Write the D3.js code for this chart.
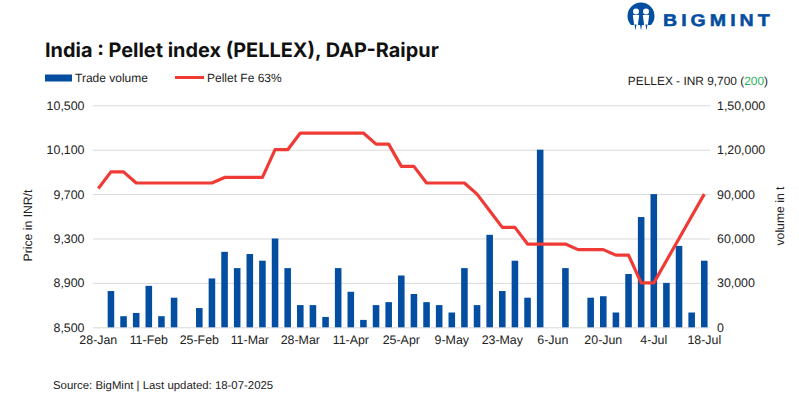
<!DOCTYPE html>
<html><head><meta charset="utf-8">
<script src="https://cdn.jsdelivr.net/npm/d3@7/dist/d3.min.js"></script>
<style>html,body{margin:0;padding:0;background:#fff}svg{display:block}text{font-family:"Liberation Sans",Arial,sans-serif;fill:#222;text-rendering:geometricPrecision}</style>
</head><body><div id="chart"></div>
<script>
const dates = ["28-Jan","31-Jan","4-Feb","7-Feb","11-Feb","14-Feb","18-Feb","21-Feb","25-Feb","28-Feb","4-Mar","7-Mar","11-Mar","14-Mar","18-Mar","21-Mar","28-Mar","1-Apr","4-Apr","8-Apr","11-Apr","15-Apr","18-Apr","22-Apr","25-Apr","29-Apr","2-May","6-May","9-May","13-May","16-May","20-May","23-May","27-May","30-May","3-Jun","6-Jun","10-Jun","13-Jun","17-Jun","20-Jun","24-Jun","27-Jun","1-Jul","4-Jul","8-Jul","11-Jul","15-Jul","18-Jul"];
const tickDates = ["28-Jan","11-Feb","25-Feb","11-Mar","28-Mar","11-Apr","25-Apr","9-May","23-May","6-Jun","20-Jun","4-Jul","18-Jul"];
const volume = [0,24500,7500,9700,28000,7500,20000,0,13000,33000,51000,40000,49500,45000,60000,40000,15000,15000,7000,40000,24000,5000,15000,17000,35000,22500,17000,15000,10000,40000,15000,62500,24500,45000,20000,120000,0,40000,0,20000,21000,10000,36000,74500,90000,30000,55000,10000,45000];
const price = [9750,9900,9900,9800,9800,9800,9800,9800,9800,9800,9850,9850,9850,9850,10100,10100,10250,10250,10250,10250,10250,10250,10150,10150,9950,9950,9800,9800,9800,9800,9700,9550,9400,9400,9250,9250,9250,9250,9200,9200,9200,9150,9150,8900,8900,9100,9300,9500,9700];
const priceTicks = [8500,8900,9300,9700,10100,10500];
const volumeTicks = [0,30000,60000,90000,120000,150000];
const indFmt = v => {
  const s = String(v); if (s.length<=3) return s;
  const last = s.slice(-3), rest = s.slice(0,-3);
  return rest.replace(/\B(?=(\d{2})+(?!\d))/g,",")+","+last;
};
const W=799,H=400,blue="#044ea1",red="#f03a35",grid="#d9d9d9";
const svg=d3.select("#chart").append("svg").attr("width",W).attr("height",H);
const x=d3.scaleBand().domain(dates).range([92,710.6]).paddingInner(0.48).paddingOuter(0.24);
const yP=d3.scaleLinear().domain([8500,10500]).range([327.3,105.3]);
const yV=d3.scaleLinear().domain([0,150000]).range([327.3,105.3]);
const cx=d=>x(d)+x.bandwidth()/2;

const gl=svg.append("g").attr("transform","translate(93,0)").call(d3.axisLeft(yP).tickValues(priceTicks).tickFormat(d3.format(",")).tickSize(-617).tickPadding(8.5));
gl.select(".domain").remove();
gl.selectAll("line").attr("stroke",grid).attr("stroke-width",1);
gl.selectAll("text").attr("font-size",12.4);
const gr=svg.append("g").attr("transform","translate(710,0)").call(d3.axisRight(yV).tickValues(volumeTicks).tickFormat(indFmt).tickSize(0).tickPadding(7));
gr.select(".domain").remove();
gr.selectAll("text").attr("font-size",12.4);
const gb=svg.append("g").attr("transform","translate(0,328.3)").call(d3.axisBottom(x).tickValues(tickDates).tickSize(0).tickPadding(7));
gb.select(".domain").remove();
gb.selectAll("text").attr("font-size",12.4);

svg.append("g").selectAll("rect").data(dates).join("rect")
 .attr("x",d=>x(d)).attr("width",x.bandwidth())
 .attr("y",(d,i)=>yV(volume[i])).attr("height",(d,i)=>yV(0)-yV(volume[i])).attr("fill",blue);
svg.append("path").datum(dates)
 .attr("d",d3.line().x(d=>cx(d)).y((d,i)=>yP(price[i])))
 .attr("fill","none").attr("stroke",red).attr("stroke-width",3.2).attr("stroke-linejoin","round");

svg.append("text").attr("x",45).attr("y",56.5).attr("font-size",19.9).attr("font-weight",700).style("font-family","Inter,'Liberation Sans'").style("fill","#111").text("India : Pellet index (PELLEX), DAP-Raipur");
svg.append("rect").attr("x",45).attr("y",74.5).attr("width",27).attr("height",7).attr("fill",blue);
svg.append("text").attr("x",75).attr("y",82).attr("font-size",12).text("Trade volume");
svg.append("line").attr("x1",175).attr("x2",204).attr("y1",77.5).attr("y2",77.5).attr("stroke",red).attr("stroke-width",3);
svg.append("text").attr("x",207).attr("y",82).attr("font-size",12).text("Pellet Fe 63%");
const pt=svg.append("text").attr("x",768).attr("y",85).attr("text-anchor","end").attr("font-size",11.9);
pt.append("tspan").text("PELLEX - INR 9,700 (");
pt.append("tspan").style("fill","#1fb25a").text("200");
pt.append("tspan").text(")");
svg.append("text").attr("transform","translate(32,225.5) rotate(-90)").attr("text-anchor","middle").attr("font-size",12.2).text("Price in INR/t");
svg.append("text").attr("transform","translate(784,216) rotate(-90)").attr("text-anchor","middle").attr("font-size",12.2).text("volume in t");
svg.append("text").attr("x",53).attr("y",389).attr("font-size",11.4).text("Source: BigMint | Last updated: 18-07-2025");

const lg=svg.append("g");
lg.append("circle").attr("cx",641).attr("cy",16).attr("r",13.5).attr("fill",blue);
[636,646].forEach(c=>{
  lg.append("circle").attr("cx",c).attr("cy",11.5).attr("r",3).attr("fill","#fff");
  lg.append("path").attr("d",`M${c-3.2} 15 L${c+3.2} 15 L${c+1.2} 30 L${c-1.2} 30 Z`).attr("fill","#fff");
});
lg.append("rect").attr("x",627).attr("y",25).attr("width",28).attr("height",6).attr("fill","#fff");
[635.5,641,646.5].forEach(c=>lg.append("path").attr("d",`M${c-1} 24.5 L${c+1} 24.5 L${c} 30.5 Z`).attr("fill",blue));
svg.append("text").attr("transform","translate(663,25.5) scale(1.15,1)").attr("font-size",17).attr("font-weight",700).attr("letter-spacing",3.5).style("fill",blue).style("stroke",blue).style("stroke-width",0.5).style("font-family","'Liberation Sans'").text("BIGMINT");
</script></body></html>
